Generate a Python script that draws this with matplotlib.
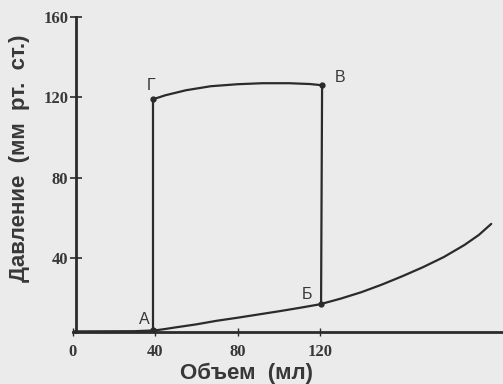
import matplotlib
matplotlib.use("Agg")
import matplotlib.pyplot as plt

# кривая наполнения (объем, давление)
fill_vol = [0, 30, 40, 45, 50, 60, 70, 80, 90, 100, 110, 120, 130, 140, 150,
            160, 170, 180, 190, 197, 203]
fill_p = [3.5, 3.6, 4, 4.7, 5.5, 7, 8.8, 10.3, 11.9, 13.5, 15.2, 17, 19.8, 23,
          26.8, 31, 35.5, 40.5, 46.5, 51.5, 57]

# изгнание Г -> В
eject_vol = [39, 45, 55, 67, 80, 92, 105, 115, 121]
eject_p = [119, 121, 123.5, 125.5, 126.5, 127, 127, 126.6, 126]

# изоволюмические отрезки
iso_contr_vol = [39, 39]      # А -> Г
iso_contr_p = [4, 119]
iso_relax_vol = [121, 120.5]  # В -> Б
iso_relax_p = [126, 17]

pt_names = ["А", "Б", "В", "Г"]
pt_vol = [39, 120.5, 121, 39]
pt_p = [4, 17, 126, 119]
lbl_vol = [34.7, 113.7, 129.7, 38]
lbl_p = [9.2, 22, 129.6, 126]

xticks = [0, 40, 80, 120]
yticks = [40, 80, 120, 160]

line_c = "#2b2b2b"
text_c = "#383838"

fig = plt.figure(figsize=(5.03, 3.84), dpi=100, facecolor="#ebebeb")
ax = fig.add_axes([72.5 / 503, 52 / 384, 1 - 72.5 / 503, (384 - 52 - 16.9) / 384])
ax.set_facecolor("none")

ax.plot(fill_vol, fill_p, color=line_c, lw=1.6, solid_capstyle="round")
ax.plot(eject_vol, eject_p, color=line_c, lw=1.6)
ax.plot(iso_contr_vol, iso_contr_p, color=line_c, lw=1.6)
ax.plot(iso_relax_vol, iso_relax_p, color=line_c, lw=1.6)
ax.plot(pt_vol, pt_p, ls="none", marker="o", ms=3.5, color=line_c)

for name, x, y in zip(pt_names, lbl_vol, lbl_p):
    ax.text(x, y, name, ha="center", va="center", fontsize=11.5,
            family="Liberation Sans", color=text_c)

ax.set_xlim(0, 208.7)
ax.set_ylim(3.2, 160)
ax.spines["top"].set_visible(False)
ax.spines["right"].set_visible(False)
ax.spines["left"].set_position(("data", 1.7))
for s in ["left", "bottom"]:
    ax.spines[s].set_linewidth(2)
    ax.spines[s].set_color(line_c)

ax.set_xticks(xticks)
ax.set_yticks(yticks)
ax.tick_params(axis="y", direction="inout", length=9, width=1.2, pad=1, colors=line_c)
ax.tick_params(axis="x", direction="inout", length=6, width=1, pad=6, colors=line_c)
for lab in ax.get_xticklabels() + ax.get_yticklabels():
    lab.set_family("Liberation Serif")
    lab.set_fontweight("bold")
    lab.set_fontsize(12)
    lab.set_color(text_c)

ax.set_xlabel("Объем  (мл)", fontsize=16, fontweight="bold", family="Liberation Sans",
              color=text_c)
ax.set_ylabel("Давление  (мм  рт.  ст.)", fontsize=16, fontweight="bold",
              family="Liberation Sans", color=text_c)
ax.xaxis.set_label_coords(0.405, -0.098)
ax.yaxis.set_label_coords(-0.099, 0.552)

fig.savefig("out.png", dpi=100, facecolor=fig.get_facecolor())
